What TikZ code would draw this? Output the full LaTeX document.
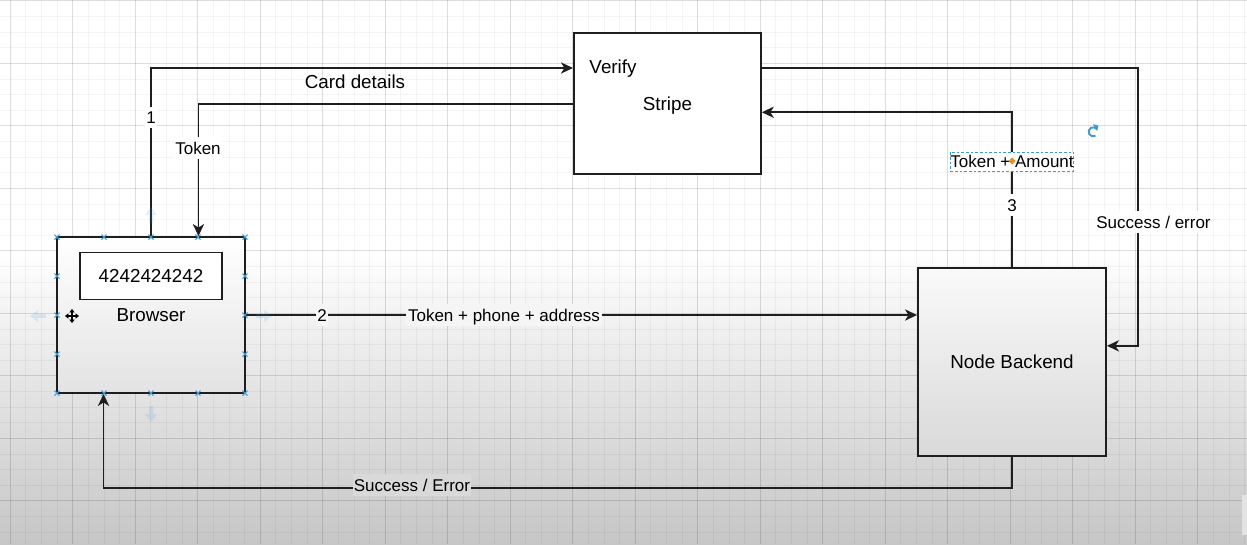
\documentclass[tikz,border=0pt]{standalone}
\usepackage{fontspec}
\setmainfont{Liberation Sans}
\usetikzlibrary{arrows.meta,calc}
\definecolor{bgbot}{HTML}{C6C6C6}
\definecolor{selblue}{HTML}{3C9AD6}
\definecolor{orangeh}{HTML}{F08A24}
\definecolor{linec}{HTML}{1E1E1E}
\begin{document}
\begin{tikzpicture}[x=0.75pt,y=-0.75pt,
  txt/.style={font=\fontsize{12.75}{15}\selectfont, text=black, text height=9.1pt, text depth=0pt, inner sep=0pt},
  bigtxt/.style={font=\fontsize{14.1}{17}\selectfont, text=black, text height=10.1pt, text depth=0pt, inner sep=0pt},
  lbl/.style={txt, fill=white, inner xsep=1.2pt, inner ysep=3.5pt},
  box/.style={bigtxt, draw=linec, line width=1.4pt},
  conn/.style={draw=linec, line width=1.4pt},
  arr/.style={conn, -{Stealth[length=9pt,width=8.4pt,inset=2.6pt]}},
  minorg/.style={draw=black, opacity=0.045, line width=0.6pt},
  majorg/.style={draw=black, opacity=0.09, line width=0.7pt},
  selmark/.style={draw=selblue, line width=0.8pt},
  hover/.style={fill=selblue, opacity=0.15}
]
\useasboundingbox (0,0) rectangle (1247,544);
% background with vignette
\fill[white] (0,0) rectangle (1247,250);
\shade[top color=white, bottom color=bgbot] (0,250) rectangle (1247,544);
% grid
\foreach \i in {0,...,79} {\draw[minorg] ({10.2+15.625*\i},0) -- ({10.2+15.625*\i},544);}
\foreach \i in {0,...,34} {\draw[minorg] (0,{0.8+15.625*\i}) -- (1247,{0.8+15.625*\i});}
\foreach \i in {0,...,19} {\draw[majorg] ({10.2+62.5*\i},0) -- ({10.2+62.5*\i},544);}
\foreach \i in {0,...,8} {\draw[majorg] (0,{0.8+62.5*\i}) -- (1247,{0.8+62.5*\i});}
\fill[black!11] (1242,495) rectangle (1247,535);

% nodes
\node[box, top color=white, bottom color=black!11, minimum width=188*0.75pt, minimum height=156*0.75pt] (browser) at (151,315) {Browser};
\node[box, fill=white, line width=1.3pt, minimum width=142*0.75pt, minimum height=47*0.75pt] (card) at (151,276) {4242424242};
\node[box, fill=white, minimum width=187*0.75pt, minimum height=141*0.75pt] (stripe) at (667.4,103.7) {Stripe};
\node[bigtxt] (verify) at (613,67) {Verify};
\node[box, top color=black!2, bottom color=black!15, minimum width=188*0.75pt, minimum height=188*0.75pt] (backend) at (1012,362) {Node Backend};

% connectors
\coordinate (stripeW1) at ($(stripe.north west)!0.25!(stripe.south west)$);
\coordinate (stripeE1) at ($(stripe.north east)!0.25!(stripe.south east)$);
\coordinate (stripeE2) at ($(stripe.north east)!0.56!(stripe.south east)$);
\coordinate (browserN2) at ($(browser.north west)!0.75!(browser.north east)$);
\coordinate (browserS1) at ($(browser.south west)!0.25!(browser.south east)$);
\coordinate (backendE) at ($(backend.north east)!0.415!(backend.south east)$);

\draw[arr] (browser.north) |- (stripeW1);
\draw[arr] (stripe.west) -| (browserN2);
\draw[arr] (browser.east) -- (browser.east -| backend.west);
\draw[arr] (backend.north) |- (stripeE2);
\draw[arr] (stripeE1) -- ++(376,0) |- (backendE);
\draw[arr] (backend.south) -- ++(0,31) -| (browserS1);

% connector labels
\node[bigtxt] (lcard) at (355,82) {Card details};
\node[lbl, inner ysep=3pt] (lone) at (151,117.5) {1};
\node[lbl] (ltoken) at (198,148) {Token};
\node[lbl, fill=black!4] (ltwo) at (322,315) {2};
\node[lbl, fill=black!4] (lphone) at (504,315) {Token + phone + address};
\node[lbl, draw=selblue, dash pattern=on 2pt off 1.5pt, line width=0.6pt, minimum width=123*0.75pt, minimum height=19*0.75pt, inner sep=0pt] (lamount) at (1012,161.5) {Token + Amount};
\node[lbl] (lthree) at (1012,205) {3};
\node[lbl, inner ysep=4pt] (lsuccess) at (1153.5,222) {Success / error};
\node[lbl, fill=black!15, inner xsep=0.6pt] (lerror) at (412,485) {Success / Error};

% editor artefacts
\fill[orangeh] (1012,157.5) -- (1015.5,161) -- (1012,164.5) -- (1008.5,161) -- cycle;
\draw[selblue, line width=1.4pt] (1097.2,129.5) arc[start angle=-30, end angle=-300, radius=4.6];
\fill[selblue] (1093,124.2) -- (1098.5,125.5) -- (1097,131) -- cycle;
\foreach \x in {57,104,151,198,245} {
  \draw[selmark] (\x-2.5,234.5) -- (\x+2.5,239.5) (\x-2.5,239.5) -- (\x+2.5,234.5);
  \draw[selmark] (\x-2.5,390.5) -- (\x+2.5,395.5) (\x-2.5,395.5) -- (\x+2.5,390.5);
}
\foreach \y in {276,315,354} {
  \draw[selmark] (54.5,\y-2.5) -- (59.5,\y+2.5) (54.5,\y+2.5) -- (59.5,\y-2.5);
  \draw[selmark] (242.5,\y-2.5) -- (247.5,\y+2.5) (242.5,\y+2.5) -- (247.5,\y-2.5);
}
% hover arrows
\fill[hover] (30,316) -- (38,310) -- (38,314) -- (46,314) -- (46,318) -- (38,318) -- (38,322) -- cycle;
\fill[hover] (272,316) -- (264,310) -- (264,314) -- (256,314) -- (256,318) -- (264,318) -- (264,322) -- cycle;
\fill[hover] (151,207) -- (145,215) -- (149,215) -- (149,223) -- (153,223) -- (153,215) -- (157,215) -- cycle;
\fill[hover] (151,422) -- (145,414) -- (149,414) -- (149,406) -- (153,406) -- (153,414) -- (157,414) -- cycle;
% move cursor
\draw[black, line width=1pt, {Triangle[length=2.6pt,width=4pt]}-{Triangle[length=2.6pt,width=4pt]}] (65,316) -- (79,316);
\draw[black, line width=1pt, {Triangle[length=2.6pt,width=4pt]}-{Triangle[length=2.6pt,width=4pt]}] (72,309) -- (72,323);
\end{tikzpicture}
\end{document}
